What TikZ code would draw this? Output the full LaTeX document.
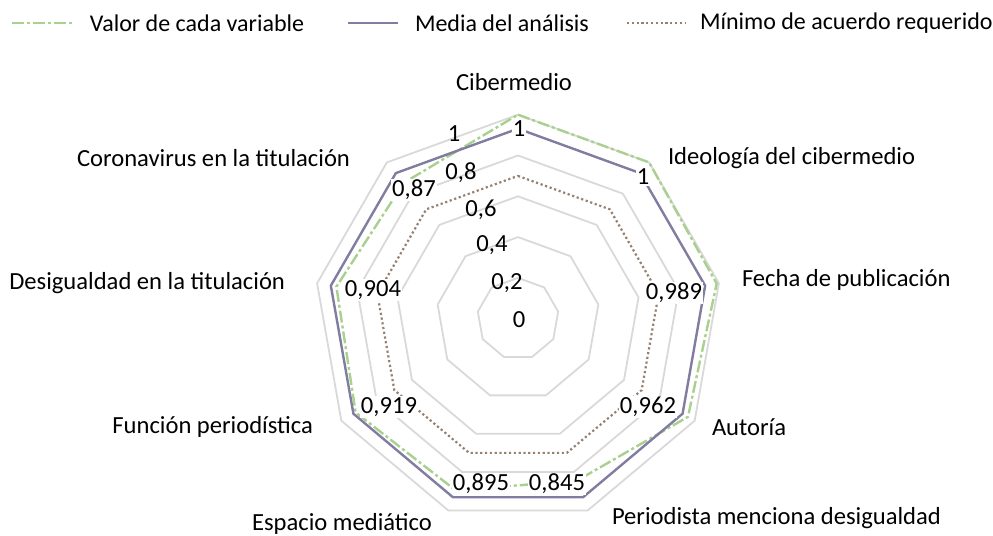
\documentclass[tikz,border=0pt]{standalone}
\usepackage{fontspec}
\setmainfont{Carlito}
\usetikzlibrary{calc}
\definecolor{valorcol}{RGB}{169,208,142}
\definecolor{mediacol}{RGB}{128,125,160}
\definecolor{minimocol}{RGB}{150,128,112}
\definecolor{ringcol}{RGB}{217,217,217}
\tikzset{
	every node/.style={font=\fontsize{12.3}{14}\selectfont,inner sep=1pt,outer sep=0pt},
	ring/.style={draw=ringcol,line width=0.9pt,line join=round},
	valor/.style={draw=valorcol,line width=1.2pt,dash pattern=on 6pt off 1.5pt on 1.5pt off 1.5pt},
	media/.style={draw=mediacol,line width=1.2pt},
	minimo/.style={draw=minimocol,line width=1.1pt,dash pattern=on 1.1pt off 1.3pt},
	datalabel/.style={fill=white,inner sep=0.5pt},
	axislabel/.style={inner sep=0pt},
	catlabel/.style={inner sep=0pt},
	legendlabel/.style={inner sep=0pt,anchor=west,font=\fontsize{12}{14}\selectfont}
}

\begin{document}
\begin{tikzpicture}[x=0.5pt,y=-0.5pt]
	\useasboundingbox (0,0) rectangle (993,536);
	\coordinate (O) at (518,318.7);

	% rejilla
	\foreach \r in {1,...,5}
		\draw[ring] ($(O)+(-90:40.8*\r)$) \foreach \i in {1,...,8}{ -- ($(O)+(40*\i-90:40.8*\r)$)} -- cycle;

	% series
	\foreach \v [count=\i from 0] in {1,1,0.989,0.962,0.845,0.895,0.919,0.904,0.87}
		\coordinate (v\i) at ($(O)+(40*\i-90:204*\v)$);
	\foreach \i in {0,...,8}{
		\coordinate (m\i) at ($(O)+(40*\i-90:204*0.9316)$);
		\coordinate (r\i) at ($(O)+(40*\i-90:204*0.7)$);
	}
	\draw[valor] (v0) -- (v1) -- (v2) -- (v3) -- (v4) -- (v5) -- (v6) -- (v7) -- (v8) -- cycle;
	\draw[media] (m0) -- (m1) -- (m2) -- (m3) -- (m4) -- (m5) -- (m6) -- (m7) -- (m8) -- cycle;
	\draw[minimo] (r0) -- (r1) -- (r2) -- (r3) -- (r4) -- (r5) -- (r6) -- (r7) -- (r8) -- cycle;

	% eje
	\node[axislabel] (a0) at (519,320) {0};
	\node[axislabel] (a2) at (507,283) {0,2};
	\node[axislabel] (a4) at (492,245) {0,4};
	\node[axislabel] (a6) at (481,210) {0,6};
	\node[axislabel] (a8) at (461,173) {0,8};
	\node[axislabel] (a10) at (454,134) {1};

	% etiquetas de datos
	\node[datalabel] (d0) at (519,129) {1};
	\node[datalabel] (d1) at (643,177) {1};
	\node[datalabel] (d2) at (674,293) {0,989};
	\node[datalabel] (d3) at (648,407) {0,962};
	\node[datalabel] (d4) at (557,484) {0,845};
	\node[datalabel] (d5) at (481,484) {0,895};
	\node[datalabel] (d6) at (389,407) {0,919};
	\node[datalabel] (d7) at (373,290) {0,904};
	\node[datalabel] (d8) at (414,190) {0,87};

	% categorias
	\node[catlabel] (c0) at (514,82) {Cibermedio};
	\node[catlabel,anchor=west] (c1) at (668,158) {Ideología del cibermedio};
	\node[catlabel,anchor=west] (c2) at (742,280) {Fecha de publicación};
	\node[catlabel,anchor=west] (c3) at (712,427) {Autoría};
	\node[catlabel,anchor=west] (c4) at (612,518) {Periodista menciona desigualdad};
	\node[catlabel] (c5) at (342,524) {Espacio mediático};
	\node[catlabel,anchor=east] (c6) at (313,427) {Función periodística};
	\node[catlabel,anchor=east] (c7) at (285,283) {Desigualdad en la titulación};
	\node[catlabel,anchor=east] (c8) at (350,158) {Coronavirus en la titulación};

	% leyenda
	\coordinate (l1a) at (12,23); \coordinate (l1b) at (72,23);
	\coordinate (l2a) at (348,23); \coordinate (l2b) at (398,23);
	\coordinate (l3a) at (627,23); \coordinate (l3b) at (686,23);
	\draw[valor] (l1a) -- (l1b);
	\draw[media] (l2a) -- (l2b);
	\draw[minimo] (l3a) -- (l3b);
	\node[legendlabel] (t1) at (90,23) {Valor de cada variable};
	\node[legendlabel] (t2) at (415,23) {Media del análisis};
	\node[legendlabel] (t3) at (700,23) {Mínimo de acuerdo requerido};
\end{tikzpicture}
\end{document}
